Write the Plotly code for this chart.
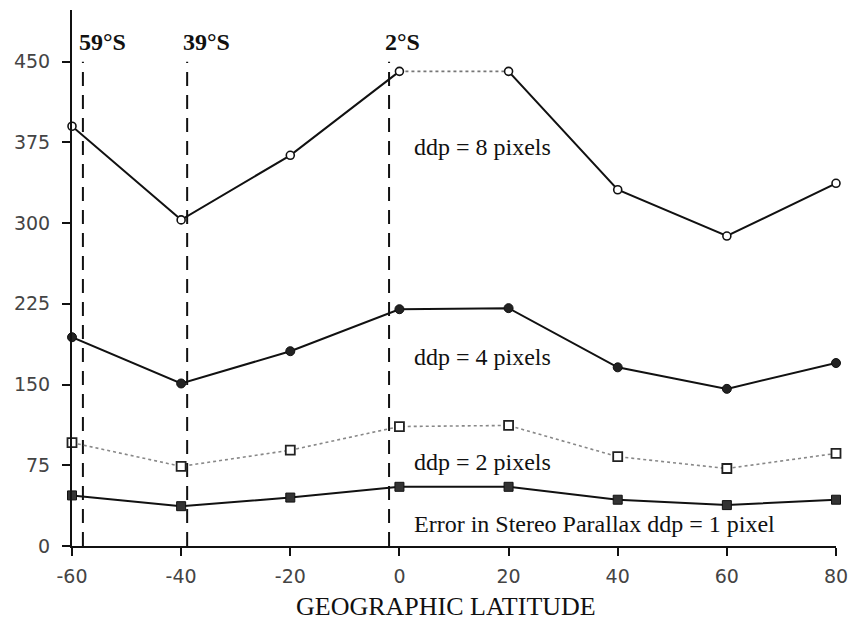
import plotly.graph_objects as go

latitude = [-60, -40, -20, 0, 20, 40, 60, 80]
ddp8 = [390, 303, 363, 441, 441, 331, 288, 337]
ddp4 = [194, 151, 181, 220, 221, 166, 146, 170]
ddp2 = [96, 74, 89, 111, 112, 83, 72, 86]
ddp1 = [47, 37, 45, 55, 55, 43, 38, 43]

marker_lat = [-58.0, -38.9, -1.9]
marker_names = ["59°S", "39°S", "2°S"]
marker_top = 450

series_labels = ["ddp = 8 pixels", "ddp = 4 pixels", "ddp = 2 pixels",
                 "Error in Stereo Parallax ddp = 1 pixel"]
label_y = [371, 176, 78, 20]
label_x = 2.3

y_ticks = [0, 75, 150, 225, 300, 375, 450]
x_ticks = [-60, -40, -20, 0, 20, 40, 60, 80]
x_ticktext = ["-60", "-40", "-20", "0", "20", "40", "60", "80"]

fig = go.Figure()

# vertical dashed latitude markers
for lat in marker_lat:
    fig.add_trace(go.Scatter(x=[lat, lat], y=[0, marker_top], mode="lines",
                             line=dict(color="#111", width=2, dash="14px,9px"),
                             hoverinfo="skip", showlegend=False))

# ddp = 8: dotted segment between 0 and 20, solid elsewhere
i0 = latitude.index(0)
fig.add_trace(go.Scatter(x=latitude[i0:i0 + 2], y=ddp8[i0:i0 + 2], mode="lines",
                         line=dict(color="#777", width=1.6, dash="dot"),
                         showlegend=False))
x8 = latitude[:i0 + 1] + [None] + latitude[i0 + 1:]
y8 = ddp8[:i0 + 1] + [None] + ddp8[i0 + 1:]
fig.add_trace(go.Scatter(x=x8, y=y8, mode="lines", line=dict(color="#111", width=2),
                         showlegend=False, connectgaps=False))
fig.add_trace(go.Scatter(x=latitude, y=ddp8, mode="markers",
                         marker=dict(symbol="circle", size=8, color="white",
                                     line=dict(color="#111", width=1.6)),
                         showlegend=False, cliponaxis=False))

fig.add_trace(go.Scatter(x=latitude, y=ddp4, mode="lines+markers",
                         line=dict(color="#111", width=2),
                         marker=dict(symbol="circle", size=9, color="#222",
                                     line=dict(color="#111", width=1)),
                         showlegend=False, cliponaxis=False))

fig.add_trace(go.Scatter(x=latitude, y=ddp2, mode="lines+markers",
                         line=dict(color="#888", width=1.6, dash="dot"),
                         marker=dict(symbol="square", size=9, color="white",
                                     line=dict(color="#222", width=1.8)),
                         showlegend=False, cliponaxis=False))

fig.add_trace(go.Scatter(x=latitude, y=ddp1, mode="lines+markers",
                         line=dict(color="#111", width=2),
                         marker=dict(symbol="square", size=9, color="#333",
                                     line=dict(color="#111", width=1)),
                         showlegend=False, cliponaxis=False))

annotations = []
for lat, name in zip(marker_lat, marker_names):
    annotations.append(dict(x=lat - 1.1, y=468, text=f"<b>{name}</b>", showarrow=False,
                            xanchor="left", yanchor="middle",
                            font=dict(family="Liberation Serif", size=24, color="#111")))
for txt, y in zip(series_labels, label_y):
    annotations.append(dict(x=label_x, y=y, text=txt, showarrow=False,
                            xanchor="left", yanchor="middle",
                            font=dict(family="Liberation Serif", size=24, color="#111")))
annotations.append(dict(x=0.5, xref="paper", y=-0.113, yref="paper",
                        text="GEOGRAPHIC LATITUDE", showarrow=False,
                        xanchor="center", yanchor="middle", xshift=-8,
                        font=dict(family="Liberation Serif", size=26, color="#111")))

fig.update_layout(
    width=850, height=620,
    margin=dict(l=72, r=14, t=10, b=74),
    paper_bgcolor="white", plot_bgcolor="white",
    annotations=annotations,
    xaxis=dict(range=[-60, 80], tickvals=x_ticks, ticktext=x_ticktext,
               ticks="outside", ticklen=8, automargin=False,
               tickwidth=2, tickcolor="#111", showline=True, linecolor="#111",
               linewidth=2, showgrid=False, zeroline=False,
               tickfont=dict(family="DejaVu Sans", size=19, color="#444"),
               ticklabelstandoff=4),
    yaxis=dict(range=[0, 498], tickvals=y_ticks, ticks="outside", ticklen=8,
               automargin=False,
               tickwidth=2, tickcolor="#111", showline=True, linecolor="#111",
               linewidth=2, showgrid=False, zeroline=False,
               tickfont=dict(family="DejaVu Sans", size=19, color="#444"),
               ticklabelstandoff=8),
)

fig.write_html("out.html", config={"displayModeBar": False},
               post_script="document.body.style.margin='0px';document.body.style.overflow='hidden';")
